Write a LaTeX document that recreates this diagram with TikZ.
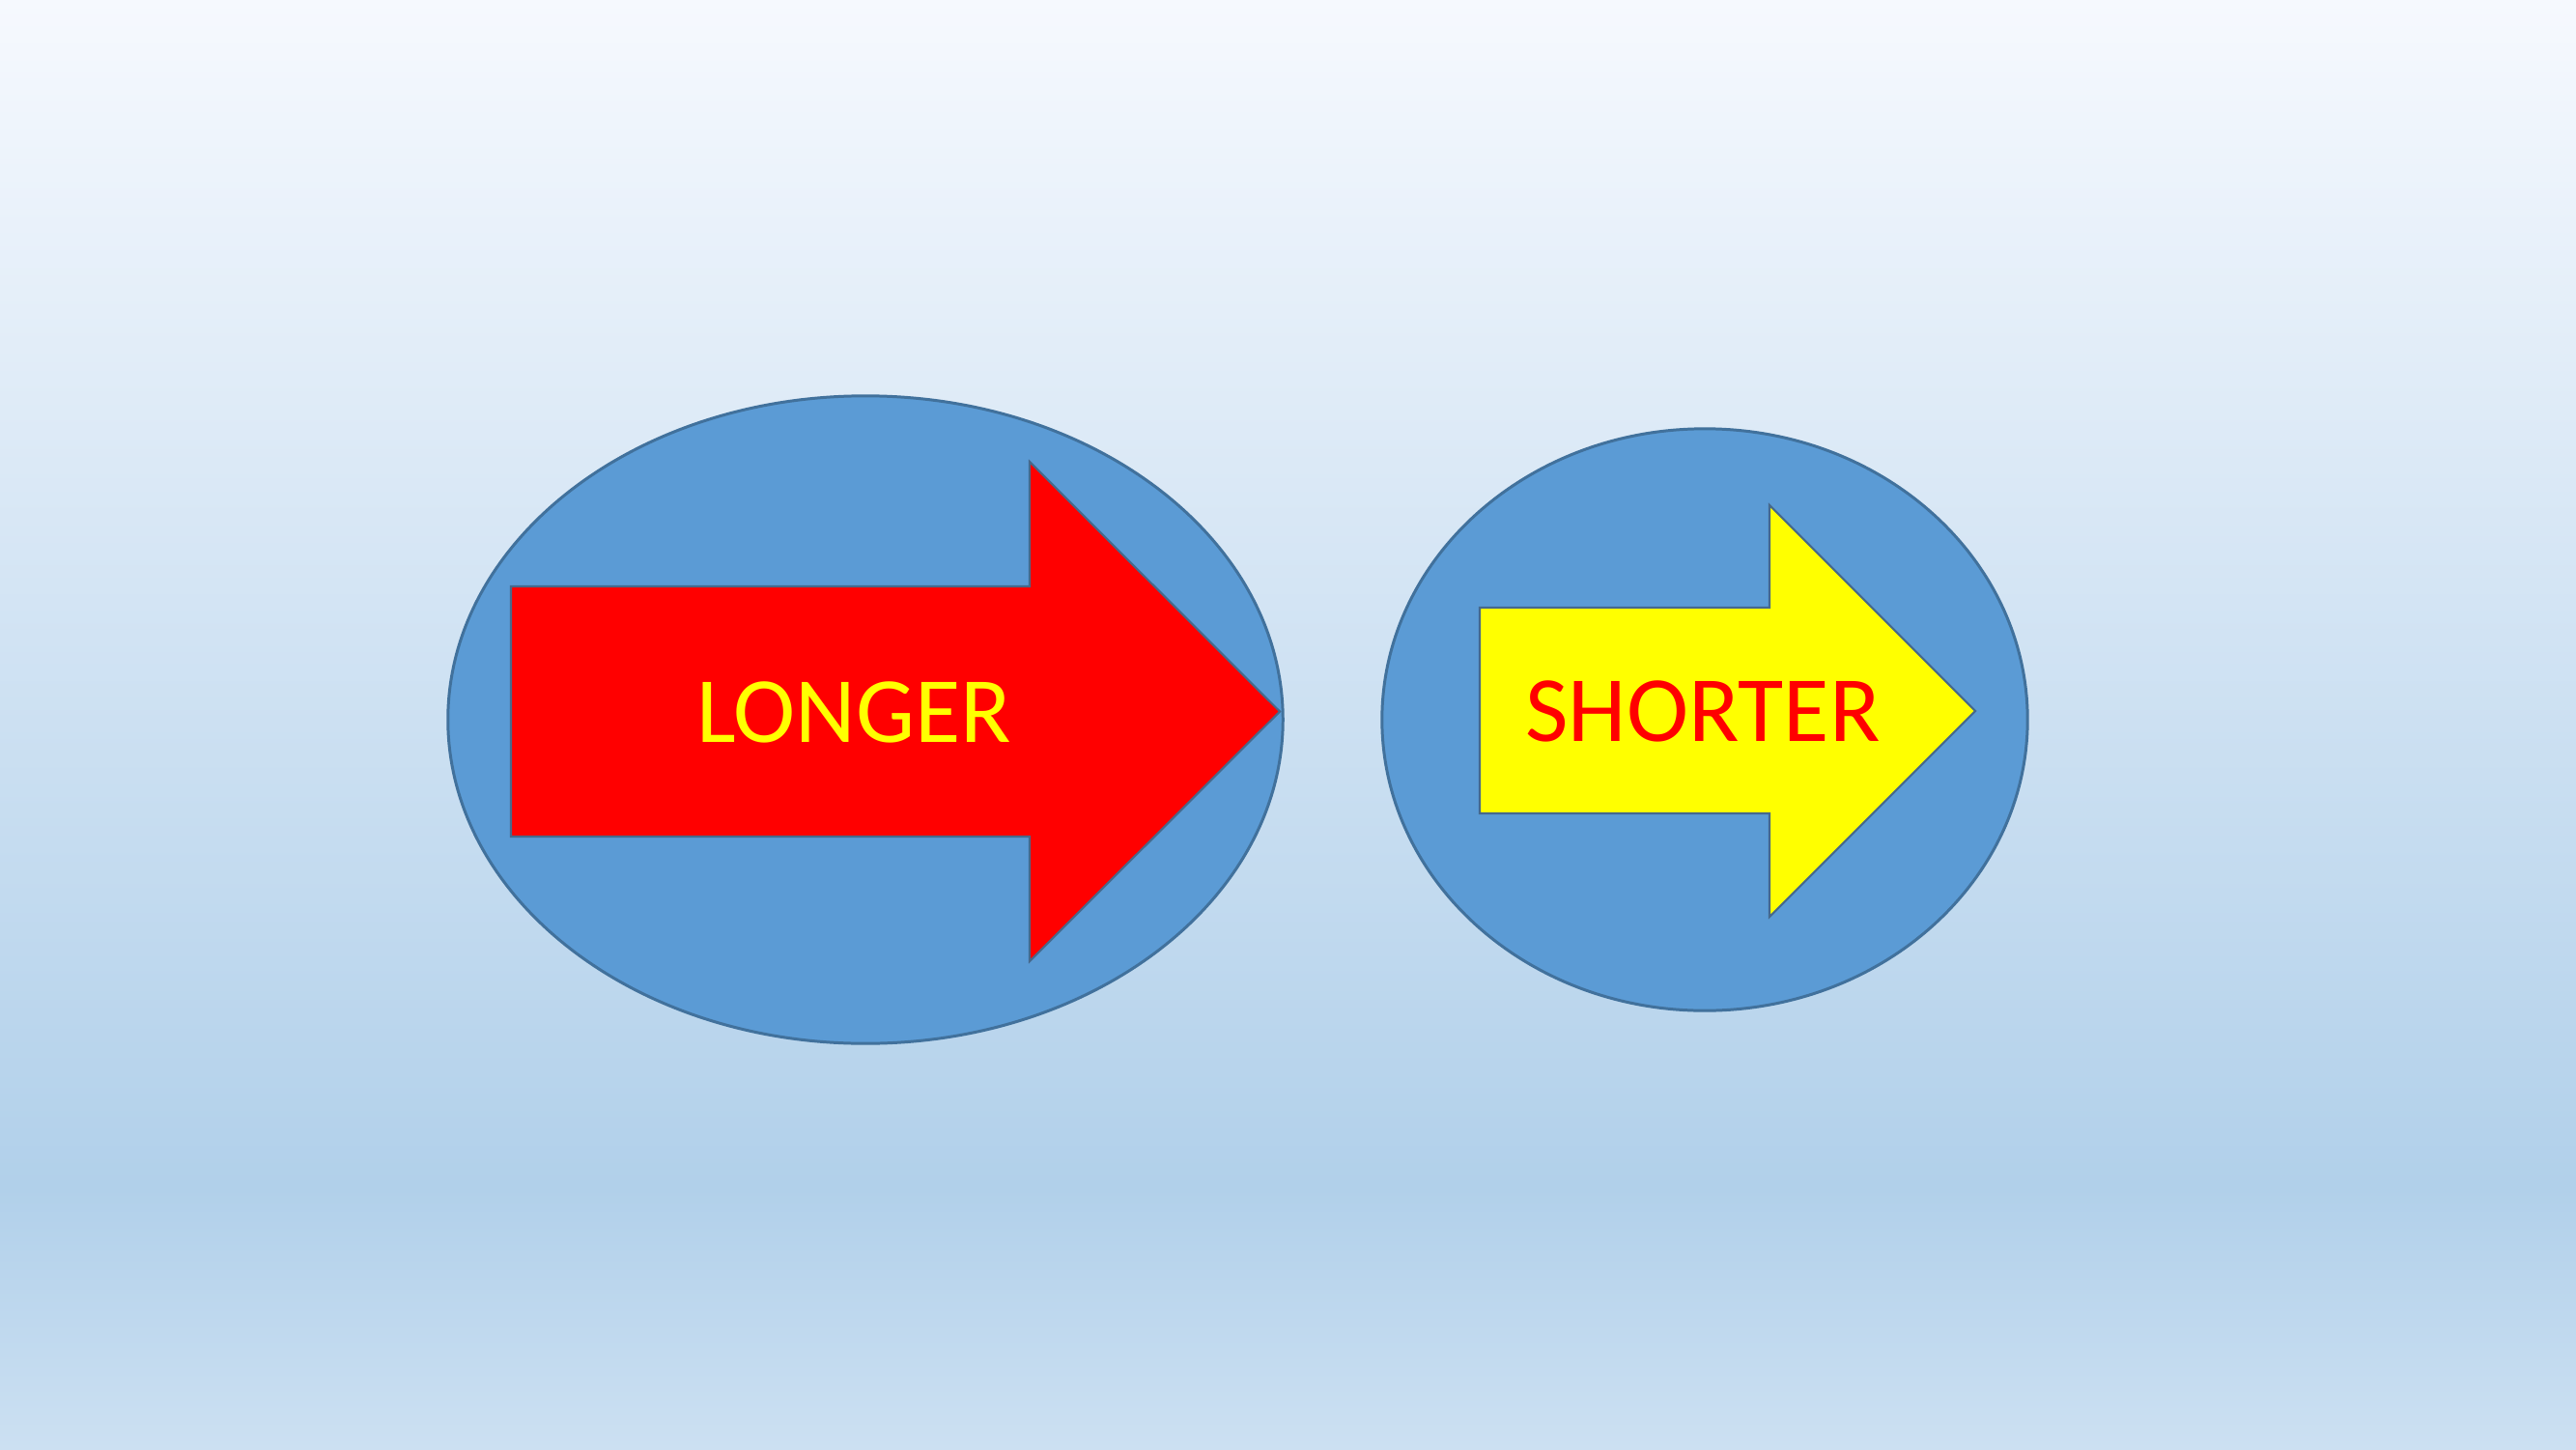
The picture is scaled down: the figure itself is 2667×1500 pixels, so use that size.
\documentclass[tikz,border=0pt]{standalone}
\usepackage{fontspec}
\setmainfont{Carlito}
\definecolor{bgtop}{RGB}{246,249,254}
\definecolor{bgmid}{RGB}{177,208,234}
\definecolor{bgbot}{RGB}{204,224,242}
\definecolor{ellfill}{RGB}{91,155,213}
\definecolor{ellline}{RGB}{65,113,156}
\definecolor{arrline}{RGB}{70,105,140}
\definecolor{pptred}{RGB}{255,0,0}
\definecolor{pptyellow}{RGB}{255,255,0}
\begin{document}
\begin{tikzpicture}[x=0.01cm,y=-0.01cm,
  blob/.style={fill=ellfill,draw=ellline,line width=0.85pt},
  bigarrow/.style={draw=arrline,line width=0.6pt,line join=miter},
  lbl/.style={font=\fontsize{27.5pt}{30pt}\selectfont,inner sep=0pt,anchor=base}]
\useasboundingbox (0,0) rectangle (2667,1500);
\shade[top color=bgtop,bottom color=bgmid] (0,0) rectangle (2667,1230);
\shade[top color=bgmid,bottom color=bgbot] (0,1229) rectangle (2667,1500);
% ellipses
\path[blob] (896,745) ellipse [x radius=4.32cm,y radius=3.35cm];
\path[blob] (1765,745) ellipse [x radius=3.34cm,y radius=3.01cm];
% red arrow
\path[bigarrow,fill=pptred] (529,607) -- (1066,607) -- (1066,478) -- (1325,736.5)
  -- (1066,995) -- (1066,866) -- (529,866) -- cycle;
% yellow arrow
\path[bigarrow,fill=pptyellow] (1532,629) -- (1832,629) -- (1832,523) -- (2045,736)
  -- (1832,949) -- (1832,842) -- (1532,842) -- cycle;
\node[lbl,text=pptyellow] (longer) at (884,768) {LONGER};
\node[lbl,text=pptred] (shorter) at (1763,767) {SHORTER};
\end{tikzpicture}
\end{document}
